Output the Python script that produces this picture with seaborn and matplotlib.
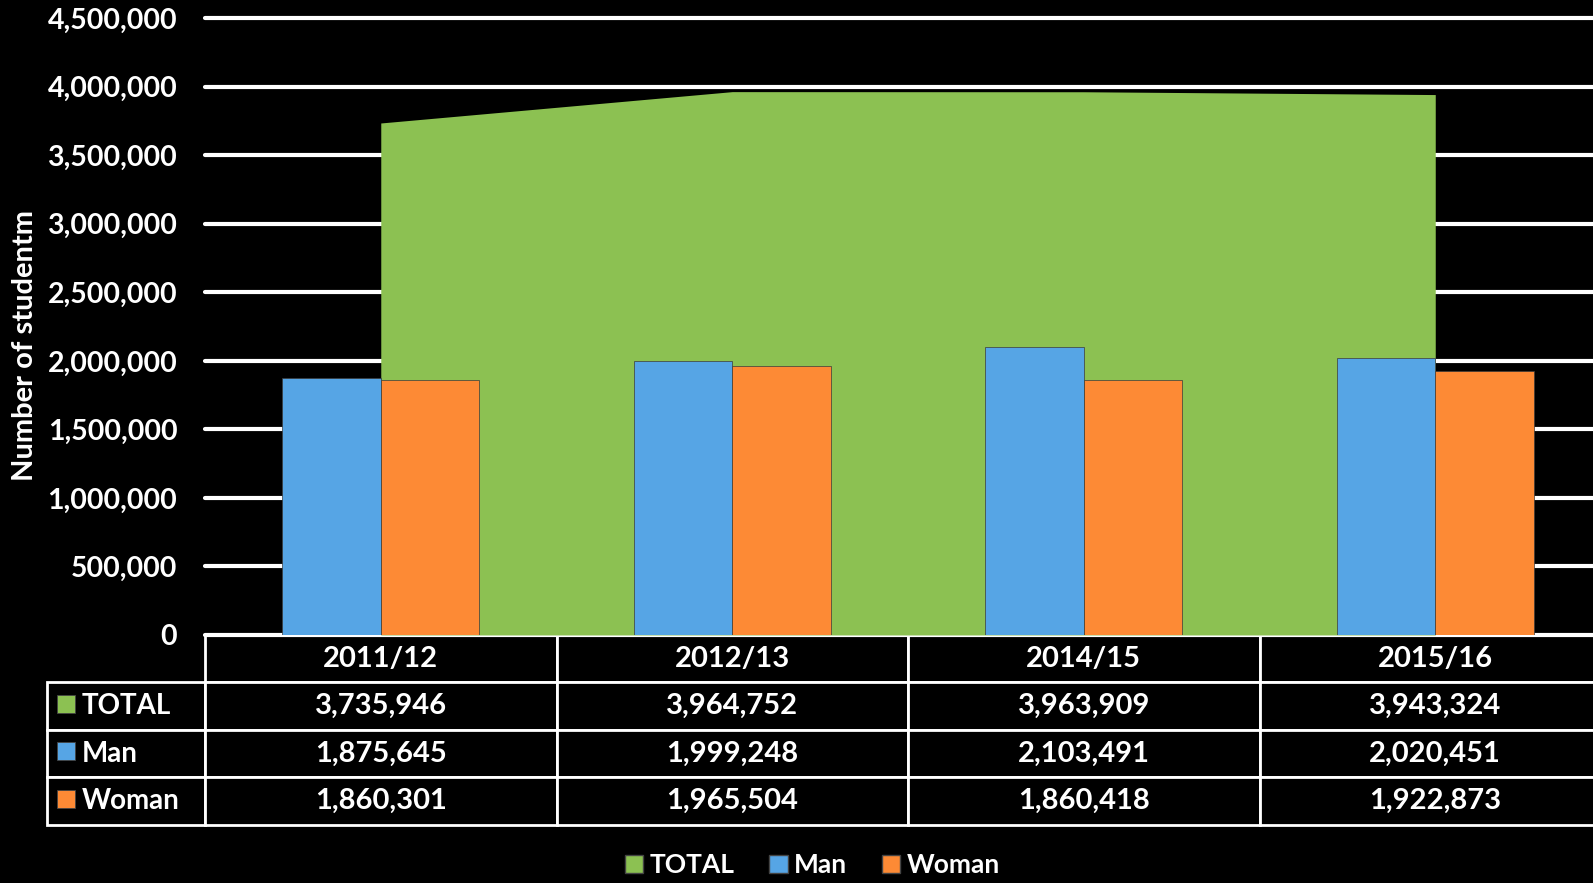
import numpy as np
import pandas as pd
import matplotlib
matplotlib.use("Agg")
import matplotlib.pyplot as plt
import matplotlib.ticker as mticker
from matplotlib.patches import Patch, Rectangle
from matplotlib.table import Table
import seaborn as sns

# data
years = ["2011/12", "2012/13", "2014/15", "2015/16"]
total = [3735946, 3964752, 3963909, 3943324]
man = [1875645, 1999248, 2103491, 2020451]
woman = [1860301, 1965504, 1860418, 1922873]
series_names = ["TOTAL", "Man", "Woman"]

green = "#8CC152"
blue = "#56A5E5"
orange = "#FD8A35"

sns.set_theme(style="white")
plt.rcParams["font.family"] = ["Lato", "DejaVu Sans"]
plt.rcParams["figure.facecolor"] = "black"
plt.rcParams["axes.facecolor"] = "black"

df = pd.DataFrame({
    "year": years * 2,
    "group": ["Man"] * len(years) + ["Woman"] * len(years),
    "students": man + woman,
})

fig = plt.figure(figsize=(15.93, 8.83), dpi=100)
ax = fig.add_axes([0.1287, 0.2809, 0.8826, 0.6984])

# TOTAL as an area behind the bars
ax.fill_between(np.arange(len(years)), total, color=green, zorder=1, lw=0)

sns.barplot(data=df, x="year", y="students", hue="group",
            palette=[blue, orange], saturation=1, width=0.56, ax=ax,
            legend=False, edgecolor="#3a3a3a", linewidth=0.5, zorder=2)

ax.set_xlim(-0.5, len(years) - 0.5)
ax.set_ylim(0, 4500000)
ax.yaxis.set_major_locator(mticker.MultipleLocator(500000))
ax.yaxis.set_major_formatter(mticker.StrMethodFormatter("{x:,.0f}"))
ax.set_axisbelow(True)
ax.yaxis.grid(True, color="white", lw=3)
for gl in ax.yaxis.get_gridlines():
    gl.set_clip_on(False)
ax.tick_params(axis="y", length=0, pad=20, labelsize=20.5, labelcolor="white")
for t in ax.get_yticklabels():
    t.set_fontweight("bold")
ax.set_xticks([])
ax.set_xlabel("")
for s in ax.spines.values():
    s.set_visible(False)

ax.set_ylabel("Number of studentm", color="white", fontsize=21, fontweight="bold")
ax.yaxis.set_label_coords(-0.119, 0.47)

# data table under the axis
tab_h = 0.308
row_h = tab_h / 4
col_w = 1.0 / len(years)
label_w = 0.1124
tab = Table(ax, bbox=[0, -tab_h, 1, tab_h])
for j, y in enumerate(years):
    tab.add_cell(0, j, col_w, row_h, text=y, loc="center",
                 facecolor="black", edgecolor="white")
rows = [total, man, woman]
for i, (name, vals) in enumerate(zip(series_names, rows), start=1):
    c = tab.add_cell(i, -1, label_w, row_h, text=name, loc="left",
                     facecolor="black", edgecolor="white")
    c.PAD = 0.22
    for j, v in enumerate(vals):
        tab.add_cell(i, j, col_w, row_h, text=f"{v:,}", loc="center",
                     facecolor="black", edgecolor="white")
tab.auto_set_font_size(False)
tab.set_fontsize(21)
for (r, cidx), cell in tab.get_celld().items():
    cell.set_linewidth(2)
    cell.get_text().set_color("white")
    cell.get_text().set_fontweight("bold")
    if cidx == -1:
        cell.get_text().set_fontsize(20)
ax.add_table(tab)

# colour keys in the row-label cells
sq_w, sq_h = 0.0128, 0.029
for i, col in enumerate([green, blue, orange], start=1):
    yc = -row_h * (i + 0.5)
    ax.add_patch(Rectangle((-label_w + 0.007, yc - sq_h / 2 + 0.004), sq_w, sq_h,
                           transform=ax.transAxes, facecolor=col,
                           edgecolor="#444444", lw=0.6, clip_on=False, zorder=5))

handles = [Patch(facecolor=c, edgecolor="#444444", label=n)
           for c, n in zip([green, blue, orange], series_names)]
fig.legend(handles=handles, loc="center", bbox_to_anchor=(0.51, 0.02), ncol=3,
           frameon=False, labelcolor="white", handlelength=0.7, handleheight=0.7,
           handletextpad=0.25, columnspacing=1.3,
           prop={"size": 19, "weight": "bold"})

fig.savefig("out.png", dpi=100, facecolor="black")
